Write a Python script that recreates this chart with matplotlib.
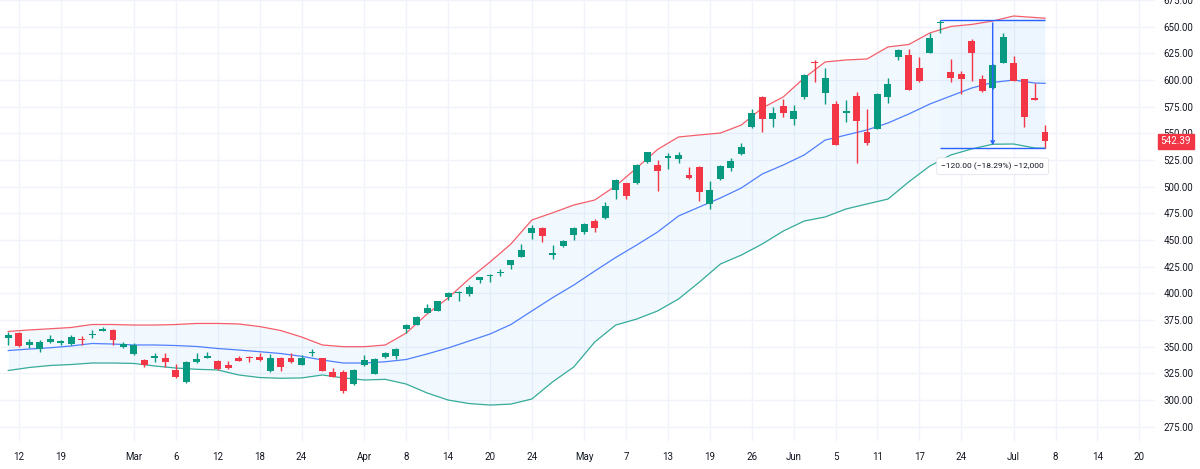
import matplotlib
matplotlib.use("Agg")
import matplotlib.pyplot as plt

# daily candles, oldest first
opens = [358, 363, 351.5, 347.5, 354.7, 353.2, 352.5, 357, 361, 365,
         366, 349.4, 343, 337.5, 339, 339, 328, 317, 335.4, 339,
         337, 332.8, 339, 340.5, 340.6, 327.2, 339, 339.7, 332.8, 343.8,
         339, 326.6, 326.6, 314.8, 332.8, 324, 340.6, 341.6, 366.3, 370.3,
         382, 383.8, 397, 400, 399.4, 412.5, 416.3, 418.8, 426.6, 434.4,
         457, 461, 436.3, 444.4, 454.7, 457.8, 467.8, 470.4, 497, 503.2,
         503.2, 523, 520.3, 527.2, 525.7, 511, 518.2, 483.8, 506.9, 517.2,
         530.7, 555.7, 584.4, 563.5, 575.7, 563.5, 584.4, 616.6, 587.6, 577.5,
         569.4, 585, 551.6, 554.1, 583.8, 622, 623.5, 611, 625.6, 653.2,
         607.2, 605.4, 637, 600.7, 592.8, 616.2, 616.2, 600.7, 582.9, 551.6]
highs = [364, 364, 357, 356, 361, 356, 361, 360, 365.6, 368,
         367, 354, 353, 338, 344, 344, 334, 337, 344.4, 345.3,
         337.5, 337, 341, 341, 344.4, 342.8, 340.6, 344, 342, 347.5,
         339.5, 329.7, 328.2, 329, 342.2, 339, 345, 348.5, 371.3, 378.5,
         389.7, 393, 401.6, 402.5, 407.8, 415.6, 417.8, 422.6, 431.5, 446.3,
         464, 462.5, 445.3, 450, 462, 466.3, 469.4, 486, 507, 503.8,
         521, 532.8, 525, 531.3, 532.8, 518, 519.7, 505.4, 520.3, 526.6,
         541.3, 572.6, 585, 575, 581.9, 576.6, 605.7, 619, 611, 580.6,
         581.3, 589, 572.6, 588, 601.6, 628.8, 628.8, 622, 643.8, 656.1,
         619.4, 608.5, 638.2, 604.7, 615, 644.4, 622.5, 601, 597.5, 557.8]
lows = [352, 350, 348.5, 345, 353, 352, 352, 352, 358, 364.5,
        351.5, 348.5, 342, 330.7, 336, 331, 321, 315.7, 335, 339,
        328.5, 328.8, 336.5, 336, 337, 326.6, 327.5, 335, 332.5, 341.6,
        327, 321.3, 307, 314, 332, 324, 339, 338.5, 362.6, 370,
        381.3, 383.5, 393.8, 392.8, 397.8, 409.4, 411, 416.3, 422.6, 434,
        450.7, 448.4, 431.9, 443.8, 450, 455.4, 457.8, 470, 488.2, 488.2,
        502.5, 522, 496.3, 516.3, 522, 507, 486.9, 478.8, 506.3, 515,
        529.7, 555, 551.6, 555.7, 565.6, 557.8, 582, 598.4, 577.5, 539,
        561, 522.5, 539, 553.8, 578.2, 618.8, 590.5, 598.5, 625.3, 644.4,
        598.4, 587, 599.4, 589, 592, 616, 599, 555.7, 581, 536.1]
closes = [361, 351, 354, 354, 357, 355.3, 359.4, 356, 362, 367,
          356, 352.5, 351.6, 333, 341.3, 336, 322, 336, 338.2, 341.6,
          329, 330.3, 337, 339.5, 337.5, 339.7, 331.3, 335.4, 339.7, 345.3,
          327.2, 322, 308.8, 328.2, 337.5, 338.5, 344.4, 347.5, 370.3, 378,
          386, 392.8, 400.6, 401.3, 405.7, 415, 417.5, 419.7, 431.3, 440.6,
          461, 453.8, 438.1, 449.4, 461, 465, 461.6, 482.2, 506.3, 491.6,
          520.3, 532.2, 515, 528.8, 529.7, 508, 495.3, 496.9, 519.7, 524.4,
          536.9, 569.4, 563.5, 568.8, 568.8, 571.3, 604.7, 615.7, 601.6, 539.1,
          571, 561.9, 541.3, 586.9, 596.3, 628.2, 590.7, 599.1, 639.1, 654.7,
          602.2, 600.7, 625, 589.7, 614.1, 640, 599.4, 565.6, 581.3, 542.39]

# bollinger bands every second bar
band_idx = list(range(0, 99, 2)) + [99]
upper = [364.3, 365.7, 366.8, 368, 370.8, 370.8, 370.3, 370.3, 370.8, 371.8,
         371.8, 371.3, 368.9, 365.2, 359.1, 351.6, 350, 350, 351.6, 362.8,
         380.7, 395.7, 413.5, 429.4, 446.3, 468.8, 475.6, 482.8, 487.5, 500.7,
         517.5, 534.9, 546.6, 548.5, 550.3, 557.8, 573.8, 584.1, 601.9, 616.9,
         618.8, 619.7, 631, 633.3, 644.1, 650.2, 652.1, 655.3, 660, 658.6, 657.9]
middle = [346.4, 347.8, 349, 350.7, 353, 352.5, 351.6, 351.6, 351.1, 350.2,
          348.3, 346.9, 345.3, 343.6, 341, 337.5, 334.7, 334.7, 335.9, 338,
          343.2, 348.8, 355.3, 361.9, 370.8, 383.5, 396.1, 407.8, 420.9, 433.6,
          445.3, 457.5, 472.5, 481, 489.4, 498.8, 511.9, 520.3, 529.7, 543.7,
          548.4, 553.2, 559.7, 568.2, 577.5, 585, 592.5, 597.7, 600, 597.2, 596.9]
lower = [327.7, 330.5, 332.4, 333.3, 334.7, 334.7, 334.3, 331.9, 330, 328.8,
         328.2, 323.5, 321.1, 320.4, 320.7, 323.5, 320.7, 318.8, 319.4, 315,
         306.6, 300, 296.7, 295.3, 296.2, 301, 317.2, 331, 354.4, 370.3,
         375.9, 383.5, 394.7, 410.6, 427.5, 435.9, 446.3, 458.4, 467.8, 471.6,
         479.1, 483.8, 488.4, 504.6, 519.4, 529.7, 535.4, 539.8, 540, 536.3, 536]

tick_idx = [1, 5, 12, 16, 20, 24, 28, 34, 38, 42, 46, 50, 55, 59, 63,
            67, 71, 75, 79, 83, 87, 91, 96, 100, 104, 108]
tick_labels = ["12", "19", "Mar", "6", "12", "18", "24", "Apr", "8", "14", "20", "24", "May", "7", "13",
               "19", "26", "Jun", "5", "11", "17", "24", "Jul", "8", "14", "20"]
price_ticks = list(range(275, 676, 25))

# price range drawing
measure_start, measure_end = 89, 99
measure_top, measure_bottom = 656.1, 536.1
measure_text = "\u2212120.00 (\u221218.29%) \u221212,000"

GREEN = "#089981"
RED = "#F23645"
BLUE = "#2962FF"
TEXT = "#131722"
GRID = "#F0F3FA"

plt.rcParams["font.family"] = ["Roboto", "DejaVu Sans"]

fig = plt.figure(figsize=(12, 4.69), dpi=100)
ax = fig.add_axes([0, 28 / 469, 1155 / 1200, 441 / 469])

# bands
ax.fill_between(band_idx, lower, upper, color="#2196F3", alpha=0.06, lw=0, zorder=1)
ax.plot(band_idx, upper, color=RED, lw=0.9, alpha=0.8, zorder=2)
ax.plot(band_idx, middle, color=BLUE, lw=0.9, alpha=0.8, zorder=2)
ax.plot(band_idx, lower, color=GREEN, lw=0.9, alpha=0.8, zorder=2)

# candles
idx = list(range(len(opens)))
colors = [GREEN if c >= o else RED for o, c in zip(opens, closes)]
bottoms = [min(o, c) for o, c in zip(opens, closes)]
heights = [max(abs(c - o), 1.0) for o, c in zip(opens, closes)]
ax.vlines(idx, lows, highs, colors=colors, lw=1, zorder=3)
ax.bar(idx, heights, bottom=bottoms, width=0.66, color=colors, lw=0, zorder=4)

# price range tool
ax.fill_between([measure_start, measure_end], measure_bottom, measure_top,
                color=BLUE, alpha=0.02, lw=0, zorder=1)
ax.hlines([measure_top, measure_bottom], measure_start, measure_end, colors=BLUE, lw=1, zorder=5)
mid_x = (measure_start + measure_end) / 2
ax.annotate("", xy=(mid_x, measure_bottom), xytext=(mid_x, measure_top),
            arrowprops=dict(arrowstyle="->", color=BLUE, lw=1, mutation_scale=6), zorder=5)
ax.annotate(measure_text, xy=(mid_x, measure_bottom), xytext=(0, -13), textcoords="offset points",
            ha="center", va="center", fontsize=6, color=TEXT, zorder=6,
            bbox=dict(boxstyle="round,pad=0.55,rounding_size=0.3", fc="white", ec="#E0E3EB", lw=0.6))

# axes styling
ax.set_xlim(-0.79, 109.5)
ax.set_ylim(261.6, 675)
ax.set_xticks(tick_idx)
ax.set_xticklabels(tick_labels)
ax.set_yticks(price_ticks)
ax.set_yticklabels([f"{p:.2f}" for p in price_ticks])
ax.yaxis.tick_right()
ax.tick_params(axis="both", length=0, labelsize=7, colors=TEXT)
ax.tick_params(axis="x", pad=8)
ax.tick_params(axis="y", pad=6)
ax.grid(True, color=GRID, lw=1)
ax.set_axisbelow(True)
for s in ax.spines.values():
    s.set_visible(False)

# last price tag
ax.annotate(f"{closes[-1]:.2f}", xy=(1, closes[-1]), xycoords=("axes fraction", "data"),
            xytext=(4, 0), textcoords="offset points", ha="left", va="center",
            fontsize=7, color="white", annotation_clip=False, zorder=10,
            bbox=dict(boxstyle="square,pad=0.3", fc=RED, ec=RED))

fig.savefig("out.png", dpi=100, facecolor="white")
